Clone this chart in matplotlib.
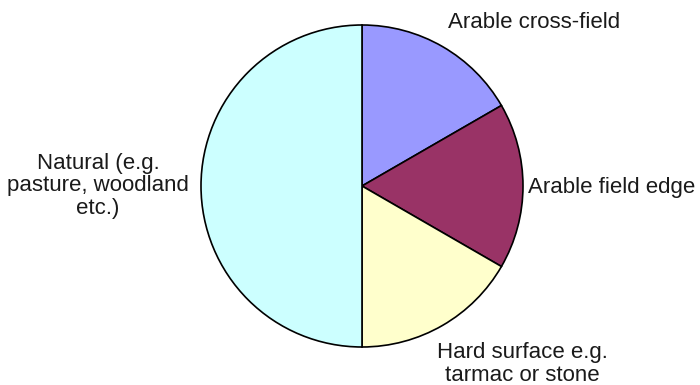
import matplotlib
matplotlib.use("Agg")
import matplotlib.pyplot as plt

labels = ["Arable cross-field", "Arable field edge",
          "Hard surface e.g.\ntarmac or stone", "Natural (e.g.\npasture, woodland\netc.)"]
values = [1, 1, 1, 3]
colors = ["#9999FF", "#993366", "#FFFFCC", "#CCFFFF"]

plt.rcParams["font.family"] = ["Liberation Sans", "DejaVu Sans"]

W, H = 700, 385
fig = plt.figure(figsize=(W / 100, H / 100), dpi=100)
ax = fig.add_axes([0, 0, 1, 1])

ax.pie(values, colors=colors, startangle=90, counterclock=False,
       center=(362, H - 186), radius=161, frame=True,
       wedgeprops={"edgecolor": "black", "linewidth": 1.2})
ax.set_xlim(0, W)
ax.set_ylim(0, H)
ax.set_aspect("equal")
ax.axis("off")

# label positions (pixel coords, y from top)
label_pos = [(534, 22), (612, 187), (522, 364), (98, 186)]
for txt, (x, y) in zip(labels, label_pos):
    ax.text(x, H - y, txt, ha="center", va="center", fontsize=16,
            color="#1a1a1a", linespacing=1.12)

fig.savefig("out.png", dpi=100)
